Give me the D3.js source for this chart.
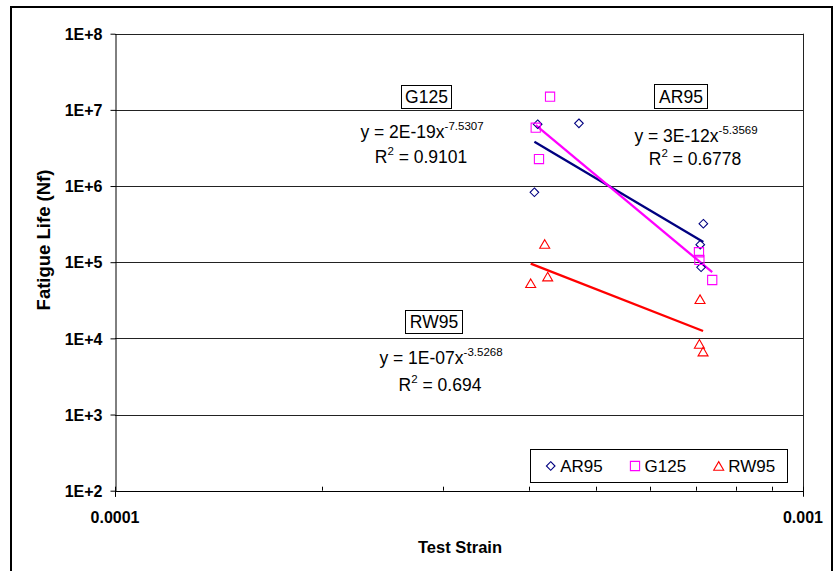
<!DOCTYPE html>
<html>
<head>
<meta charset="utf-8">
<script src="https://cdn.jsdelivr.net/npm/d3@7"></script>
<style>
  html, body { margin: 0; padding: 0; background: #fff; }
  svg { display: block; font-family: "Liberation Sans", Arial, sans-serif; }
</style>
</head>
<body>
<svg id="chart" width="835" height="571"></svg>
<script>
// Fatigue life vs. test strain for three binders, with power-law trendlines
const seriesNames = ["AR95", "G125", "RW95"];
const seriesColors = ["#000080", "#FF00FF", "#FF0000"];
const seriesMarkers = ["diamond", "square", "triangle"];

const strainAR95 = [4.115e-4, 4.724e-4, 4.07e-4, 7.164e-4, 7.09e-4, 7.11e-4];
const lifeAR95   = [6.47e6, 6.66e6, 8.28e5, 3.20e5, 1.70e5, 8.58e4];

const strainG125 = [4.289e-4, 4.088e-4, 4.133e-4, 7.06e-4, 7.07e-4, 7.38e-4];
const lifeG125   = [1.489e7, 5.83e6, 2.26e6, 1.35e5, 1.07e5, 5.84e4];

const strainRW95 = [4.213e-4, 4.255e-4, 4.02e-4, 7.085e-4, 7.07e-4, 7.157e-4];
const lifeRW95   = [1.73e5, 6.45e4, 5.28e4, 3.26e4, 8.44e3, 6.68e3];

// Power trendlines y = a * x^b
const trendCoef = [2.63e-12, 1.92e-19, 1.01e-7];
const trendExp  = [-5.3569, -7.5307, -3.5268];
const trendR2   = ["0.6778", "0.9101", "0.694"];

const yTickValues = [1e2, 1e3, 1e4, 1e5, 1e6, 1e7, 1e8];
const yTickLabels = ["1E+2", "1E+3", "1E+4", "1E+5", "1E+6", "1E+7", "1E+8"];
const xTickValues = [1e-4, 1e-3];
const xTickLabels = ["0.0001", "0.001"];
const xMinorValues = [2e-4, 3e-4, 4e-4, 5e-4, 6e-4, 7e-4, 8e-4, 9e-4];

const series = [
  { strain: strainAR95, life: lifeAR95 },
  { strain: strainG125, life: lifeG125 },
  { strain: strainRW95, life: lifeRW95 }
];

const svg = d3.select("#chart");
const plot = { left: 115, right: 803, top: 33.7, bottom: 490.7 };

const x = d3.scaleLog().domain([1e-4, 1e-3]).range([plot.left, plot.right]);
const y = d3.scaleLog().domain([1e2, 1e8]).range([plot.bottom, plot.top]);

// outer chart frame
svg.append("rect")
  .attr("x", 11).attr("y", 7).attr("width", 821).attr("height", 570)
  .attr("fill", "#fff").attr("stroke", "#000").attr("stroke-width", 2);

// horizontal gridlines
svg.append("g").selectAll("line").data(yTickValues).join("line")
  .attr("x1", plot.left).attr("x2", plot.right)
  .attr("y1", d => Math.round(y(d)) + 0.5).attr("y2", d => Math.round(y(d)) + 0.5)
  .attr("stroke", "#222").attr("stroke-width", 1);

// right edge of plot area
svg.append("line")
  .attr("x1", plot.right + 0.5).attr("x2", plot.right + 0.5)
  .attr("y1", plot.top).attr("y2", plot.bottom + 5.5)
  .attr("stroke", "#222").attr("stroke-width", 1);

// y axis
const yAxis = svg.append("g").attr("transform", `translate(${plot.left + 0.5},0)`)
  .call(d3.axisLeft(y).tickValues(yTickValues)
    .tickFormat((d, i) => yTickLabels[i]).tickSizeInner(5).tickSizeOuter(0).tickPadding(8));
yAxis.select(".domain").attr("stroke", "#000");
yAxis.selectAll(".tick line").attr("stroke", "#000");
yAxis.selectAll("text")
  .attr("font-family", "Liberation Sans, Arial, sans-serif")
  .attr("font-size", 16).attr("font-weight", "bold").attr("fill", "#000").attr("dy", "0.36em");
svg.append("line")
  .attr("x1", plot.left + 0.5).attr("x2", plot.left + 0.5)
  .attr("y1", plot.bottom).attr("y2", plot.bottom + 6)
  .attr("stroke", "#000");

// x axis baseline
svg.append("line")
  .attr("x1", plot.left).attr("x2", plot.right)
  .attr("y1", Math.round(plot.bottom) + 0.5).attr("y2", Math.round(plot.bottom) + 0.5)
  .attr("stroke", "#000");

// x axis minor ticks (inside) and major tick labels
svg.append("g").selectAll("line").data(xMinorValues).join("line")
  .attr("x1", d => Math.round(x(d)) + 0.5).attr("x2", d => Math.round(x(d)) + 0.5)
  .attr("y1", plot.bottom - 4).attr("y2", plot.bottom)
  .attr("stroke", "#000");
svg.append("g").selectAll("line").data(xTickValues).join("line")
  .attr("x1", d => Math.round(x(d)) + 0.5).attr("x2", d => Math.round(x(d)) + 0.5)
  .attr("y1", plot.bottom - 4).attr("y2", plot.bottom + 6)
  .attr("stroke", "#000");
svg.append("g").selectAll("text").data(xTickValues).join("text")
  .attr("x", d => x(d)).attr("y", 523)
  .attr("text-anchor", "middle")
  .attr("font-size", 16).attr("font-weight", "bold")
  .text((d, i) => xTickLabels[i]);

// axis titles
svg.append("text")
  .attr("x", 460).attr("y", 552.5).attr("text-anchor", "middle")
  .attr("font-size", 16.5).attr("font-weight", "bold")
  .text("Test Strain");
svg.append("text")
  .attr("transform", "translate(50,240) rotate(-90)")
  .attr("text-anchor", "middle")
  .attr("font-size", 18.5).attr("font-weight", "bold")
  .text("Fatigue Life (Nf)");

// marker shapes
function markerPath(kind) {
  if (kind === "diamond") return "M0,-4.3L4.3,0L0,4.3L-4.3,0Z";
  if (kind === "square") return "M-4.6,-4.6H4.6V4.6H-4.6Z";
  return "M0,-4.4L5,4.2H-5Z";
}

// trendlines
const trendG = svg.append("g");
series.forEach((s, i) => {
  const [lo, hi] = d3.extent(s.strain);
  const pts = [lo, hi].map(v => [x(v), y(trendCoef[i] * Math.pow(v, trendExp[i]))]);
  trendG.append("path")
    .attr("d", d3.line()(pts))
    .attr("stroke", seriesColors[i]).attr("stroke-width", 2.3)
    .attr("fill", "none");
});

// data points
series.forEach((s, i) => {
  svg.append("g").selectAll("path")
    .data(s.strain.map((v, j) => [v, s.life[j]]))
    .join("path")
    .attr("transform", d => `translate(${x(d[0])},${y(d[1])})`)
    .attr("d", markerPath(seriesMarkers[i]))
    .attr("fill", "none").attr("stroke", seriesColors[i]).attr("stroke-width", 1.1);
});

// trendline equation formatting
function fmtCoef(a) {
  const e = Math.floor(Math.log10(a));
  let m = Math.round(a / Math.pow(10, e));
  let ex = e;
  if (m === 10) { m = 1; ex += 1; }
  const sign = ex < 0 ? "-" : "+";
  return m + "E" + sign + String(Math.abs(ex)).padStart(2, "0");
}

// series labels with equations
const labelBoxes = [
  { x0: 654.5, y0: 84.5, w: 53, h: 24, eqX: 696, eqY: 141.5, r2Y: 165 },
  { x0: 401.5, y0: 85.5, w: 50, h: 23, eqX: 422, eqY: 137.5, r2Y: 163 },
  { x0: 405.5, y0: 310.5, w: 57, h: 23, eqX: 441, eqY: 363.5, r2Y: 391 }
];
labelBoxes.forEach((b, i) => {
  const g = svg.append("g");
  g.append("rect").attr("x", b.x0).attr("y", b.y0).attr("width", b.w).attr("height", b.h)
    .attr("fill", "#fff").attr("stroke", "#000").attr("stroke-width", 1);
  g.append("text").attr("x", b.x0 + b.w / 2).attr("y", b.y0 + b.h / 2 + 6.3)
    .attr("text-anchor", "middle").attr("font-size", 17.5).text(seriesNames[i]);
  const eq = g.append("text").attr("x", b.eqX).attr("y", b.eqY)
    .attr("text-anchor", "middle").attr("font-size", 17.5);
  eq.append("tspan").text("y = " + fmtCoef(trendCoef[i]) + "x");
  eq.append("tspan").attr("font-size", 11.5).attr("dy", -8).text(trendExp[i].toFixed(4));
  const r2 = g.append("text").attr("x", b.eqX - 1).attr("y", b.r2Y)
    .attr("text-anchor", "middle").attr("font-size", 17.5);
  r2.append("tspan").text("R");
  r2.append("tspan").attr("font-size", 11.5).attr("dy", -8).text("2");
  r2.append("tspan").attr("dy", 8).text(" = " + trendR2[i]);
});

// legend
const legend = svg.append("g");
legend.append("rect")
  .attr("x", 530.5).attr("y", 449.5).attr("width", 257).attr("height", 33)
  .attr("fill", "#fff").attr("stroke", "#000").attr("stroke-width", 1);
const legendX = [550.7, 635, 718.7];
seriesNames.forEach((name, i) => {
  legend.append("path")
    .attr("transform", `translate(${legendX[i]},466)`)
    .attr("d", markerPath(seriesMarkers[i]))
    .attr("fill", "none").attr("stroke", seriesColors[i]).attr("stroke-width", 1.1);
  legend.append("text")
    .attr("x", legendX[i] + 9.5).attr("y", 472.3)
    .attr("font-size", 17).text(name);
});
</script>
</body>
</html>
